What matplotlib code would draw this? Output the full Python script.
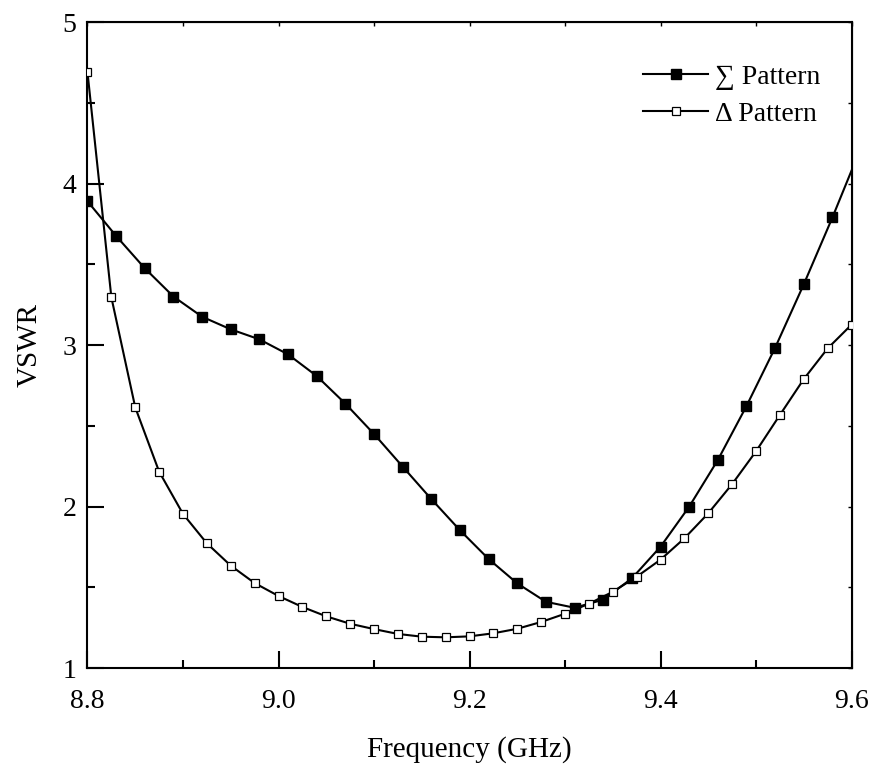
import numpy as np
import matplotlib
matplotlib.use("Agg")
import matplotlib.pyplot as plt
from matplotlib.ticker import MultipleLocator

plt.rcParams["font.family"] = ["Liberation Serif", "DejaVu Serif"]
plt.rcParams["mathtext.fontset"] = "stix"

# Sum pattern: markers every 0.03 GHz, line runs on to 9.6 GHz
freq_sum = [8.80, 8.83, 8.86, 8.89, 8.92, 8.95, 8.98, 9.01, 9.04, 9.07,
            9.10, 9.13, 9.16, 9.19, 9.22, 9.25, 9.28, 9.31, 9.34, 9.37,
            9.40, 9.43, 9.46, 9.49, 9.52, 9.55, 9.58, 9.60]
vswr_sum = [3.89, 3.675, 3.475, 3.30, 3.175, 3.097, 3.035, 2.942, 2.808, 2.637,
            2.449, 2.247, 2.046, 1.853, 1.675, 1.524, 1.41, 1.373, 1.423, 1.555,
            1.751, 1.999, 2.288, 2.622, 2.983, 3.376, 3.79, 4.08]

# Delta pattern: markers every 0.025 GHz
freq_delta = [8.800, 8.825, 8.850, 8.875, 8.900, 8.925, 8.950, 8.975, 9.000,
              9.025, 9.050, 9.075, 9.100, 9.125, 9.150, 9.175, 9.200, 9.225,
              9.250, 9.275, 9.300, 9.325, 9.350, 9.375, 9.400, 9.425, 9.450,
              9.475, 9.500, 9.525, 9.550, 9.575, 9.600]
vswr_delta = [4.689, 3.295, 2.614, 2.216, 1.954, 1.772, 1.634, 1.526, 1.446,
              1.378, 1.32, 1.274, 1.241, 1.211, 1.194, 1.19, 1.196, 1.215,
              1.243, 1.285, 1.336, 1.398, 1.472, 1.565, 1.671, 1.803, 1.958,
              2.139, 2.342, 2.567, 2.789, 2.979, 3.126]

fig = plt.figure(figsize=(8.74, 7.72), dpi=100)
ax = fig.add_axes([0.1001, 0.1347, 0.8742, 0.8368])

ax.plot(freq_sum, vswr_sum, color="black", lw=1.5, marker="s", ms=7,
        mfc="black", mec="black", markevery=list(range(len(freq_sum) - 1)),
        label="\u2211 Pattern", zorder=3)
ax.plot(freq_delta, vswr_delta, color="black", lw=1.5, marker="s", ms=6,
        mfc="white", mec="black", mew=0.9, label="\u0394 Pattern", zorder=4)

ax.set_xlim(8.8, 9.6)
ax.set_ylim(1, 5)
ax.xaxis.set_major_locator(MultipleLocator(0.2))
ax.xaxis.set_minor_locator(MultipleLocator(0.1))
ax.yaxis.set_major_locator(MultipleLocator(1))
ax.yaxis.set_minor_locator(MultipleLocator(0.5))
ax.xaxis.set_major_formatter(plt.FormatStrFormatter("%.1f"))
ax.tick_params(which="major", direction="in", length=12, width=1.5, labelsize=20)
ax.tick_params(which="minor", direction="in", length=6, width=1.5)
ax.tick_params(axis="x", pad=15)
ax.tick_params(axis="y", pad=8)
for s in ax.spines.values():
    s.set_linewidth(1.5)

# short inward ticks on top and right
top = ax.secondary_xaxis("top")
top.xaxis.set_major_locator(MultipleLocator(0.1))
top.tick_params(direction="in", length=3, width=1, labeltop=False)
right = ax.secondary_yaxis("right")
right.yaxis.set_major_locator(MultipleLocator(0.5))
right.tick_params(direction="in", length=3, width=1, labelright=False)

ax.set_xlabel("Frequency (GHz)", fontsize=21, labelpad=16)
ax.set_ylabel("VSWR", fontsize=21, labelpad=14)

ax.legend(loc="upper left", bbox_to_anchor=(0.727, 0.934), frameon=False,
          fontsize=20, handlelength=2.35, handletextpad=0.25, borderpad=0,
          borderaxespad=0, labelspacing=0.42)

fig.savefig("out.png", dpi=100)
